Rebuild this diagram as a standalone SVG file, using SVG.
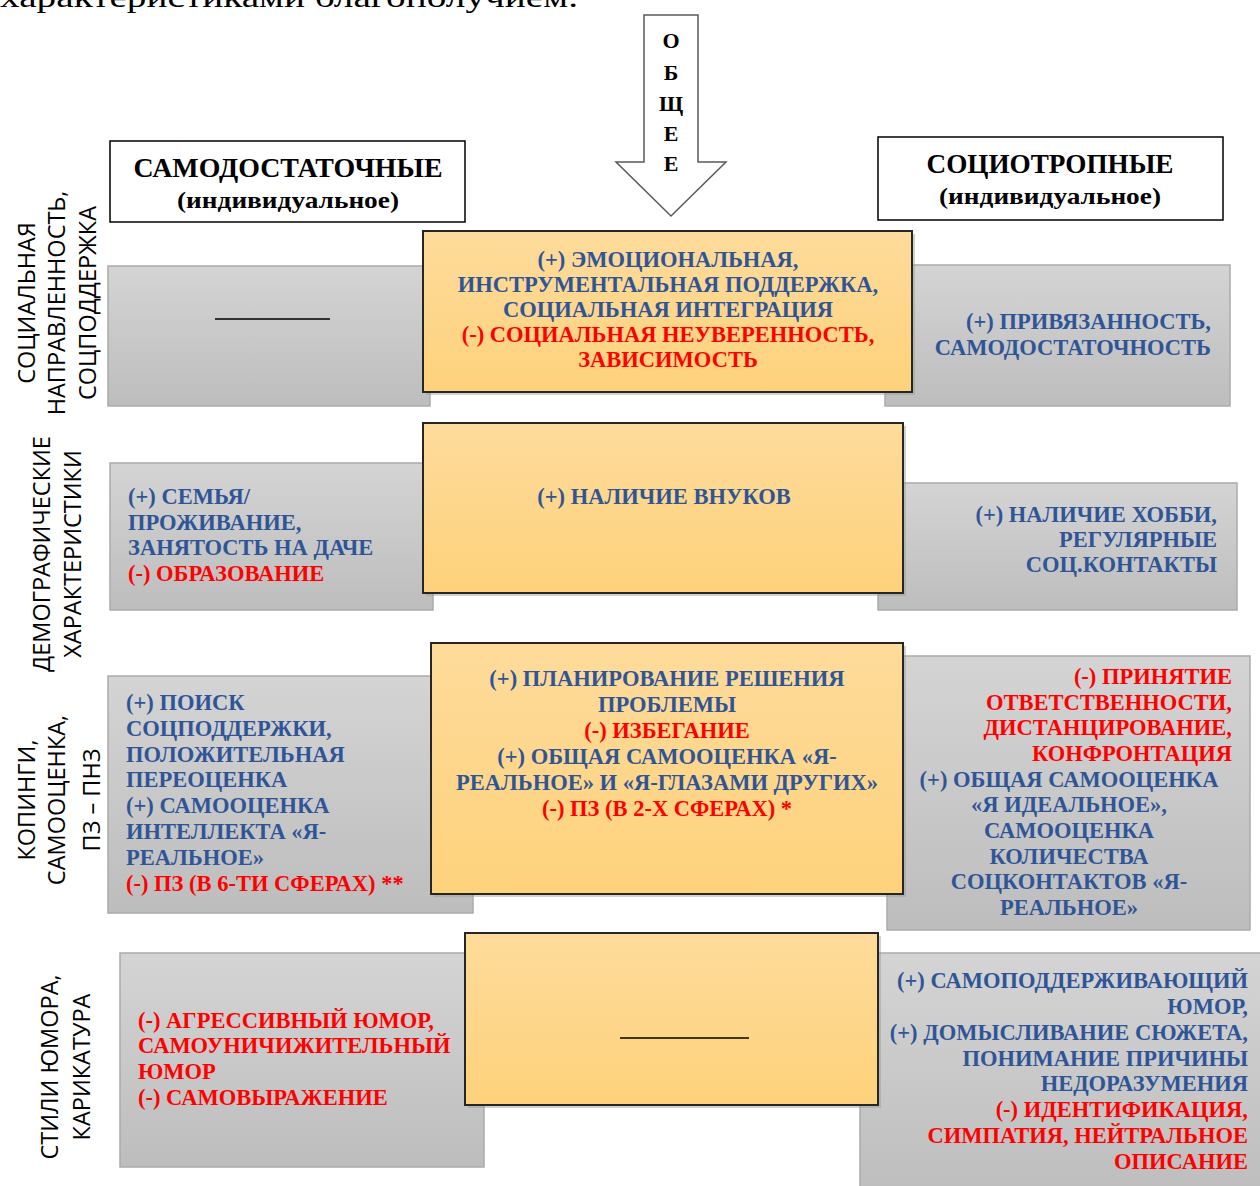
<svg xmlns="http://www.w3.org/2000/svg" width="1260" height="1186" viewBox="0 0 1260 1186">
<defs>
<linearGradient id="gGray" x1="0" y1="0" x2="0" y2="1">
<stop offset="0" stop-color="#D4D4D4"/>
<stop offset="1" stop-color="#BDBDBD"/>
</linearGradient>
<linearGradient id="gOr" x1="0" y1="0" x2="0" y2="1">
<stop offset="0" stop-color="#FEDB9B"/>
<stop offset="1" stop-color="#FED27C"/>
</linearGradient>
</defs>
<style>
.gray{fill:url(#gGray);stroke:#ABABAB;stroke-width:1.5}
.or{fill:url(#gOr);stroke:#262626;stroke-width:2}
.hdr{fill:#FFFFFF;stroke:#000000;stroke-width:1.5}
.sh{fill:#9A9A9A;opacity:0.45}
.t{font-family:"Liberation Serif","Times New Roman",serif;font-weight:bold;font-size:22.5px;fill:#2F5597}
.r{fill:#FF0000}
.h1{font-family:"Liberation Serif","Times New Roman",serif;font-weight:bold;font-size:27px;fill:#000}
.h2{font-family:"Liberation Serif","Times New Roman",serif;font-weight:bold;font-size:22px;fill:#000}
.h3{font-family:"Liberation Serif","Times New Roman",serif;font-weight:bold;font-size:24px;fill:#000}
.lbl{font-family:"Open Sans","Liberation Sans",sans-serif;font-size:23.5px;fill:#000}
.m{text-anchor:middle}
.e{text-anchor:end}
.dash{stroke:#000;stroke-width:1.5}
</style>
<rect width="1260" height="1186" fill="#FFFFFF"/>
<text x="0" y="7" font-family="Liberation Serif,Times New Roman,serif" font-size="30" fill="#000" textLength="578" lengthAdjust="spacingAndGlyphs">характеристиками благополучием.</text>

<g id="hdr-left">
<rect class="hdr" x="110" y="141" width="355" height="81"/>
<text class="h1 m" x="288" y="177" textLength="309" lengthAdjust="spacingAndGlyphs">САМОДОСТАТОЧНЫЕ</text>
<text class="h3 m" x="288" y="208" textLength="222" lengthAdjust="spacingAndGlyphs">(индивидуальное)</text>
</g>
<g id="hdr-right">
<rect class="hdr" x="878" y="137" width="345" height="83"/>
<text class="h1 m" x="1050" y="173" textLength="247" lengthAdjust="spacingAndGlyphs">СОЦИОТРОПНЫЕ</text>
<text class="h3 m" x="1050" y="204" textLength="222" lengthAdjust="spacingAndGlyphs">(индивидуальное)</text>
</g>
<g id="arrow-common">
<path d="M644,15 H698 V162 H726 L671,216 L616,162 H644 Z" fill="#FFFFFF" stroke="#595959" stroke-width="1.5"/>
<text class="h2 m" x="671" y="48">О</text>
<text class="h2 m" x="671" y="80">Б</text>
<text class="h2 m" x="671" y="111">Щ</text>
<text class="h2 m" x="671" y="141">Е</text>
<text class="h2 m" x="671" y="171">Е</text>
</g>

<g id="label-row1">
<text class="lbl m" transform="translate(35,303) rotate(-90)">СОЦИАЛЬНАЯ</text>
<text class="lbl m" transform="translate(65,303) rotate(-90)">НАПРАВЛЕННОСТЬ,</text>
<text class="lbl m" transform="translate(96,303) rotate(-90)">СОЦПОДДЕРЖКА</text>
</g>
<g id="label-row2">
<text class="lbl m" transform="translate(50,554) rotate(-90)">ДЕМОГРАФИЧЕСКИЕ</text>
<text class="lbl m" transform="translate(81,554) rotate(-90)">ХАРАКТЕРИСТИКИ</text>
</g>
<g id="label-row3">
<text class="lbl m" transform="translate(35,800) rotate(-90)">КОПИНГИ,</text>
<text class="lbl m" transform="translate(65,800) rotate(-90)">САМООЦЕНКА,</text>
<text class="lbl m" transform="translate(100,800) rotate(-90)">ПЗ – ПНЗ</text>
</g>
<g id="label-row4">
<text class="lbl m" transform="translate(58,1067) rotate(-90)">СТИЛИ ЮМОРА,</text>
<text class="lbl m" transform="translate(90,1067) rotate(-90)">КАРИКАТУРА</text>
</g>

<!-- Row 1 -->
<g id="r1-left">
<rect class="gray" x="108" y="266" width="322" height="140"/>
<line class="dash" x1="215" y1="319" x2="330" y2="319"/>
</g>
<g id="r1-right">
<rect class="gray" x="885" y="265" width="345" height="141"/>
<text class="t e" x="1211" y="329">(+) ПРИВЯЗАННОСТЬ,</text>
<text class="t e" x="1211" y="355">САМОДОСТАТОЧНОСТЬ</text>
</g>
<g id="r1-center">
<rect class="sh" x="426" y="234" width="489" height="161"/>
<rect class="or" x="423" y="231" width="489" height="161"/>
<text class="t m" x="668" y="267">(+) ЭМОЦИОНАЛЬНАЯ,</text>
<text class="t m" x="668" y="292">ИНСТРУМЕНТАЛЬНАЯ ПОДДЕРЖКА,</text>
<text class="t m" x="668" y="317">СОЦИАЛЬНАЯ ИНТЕГРАЦИЯ</text>
<text class="t m r" x="668" y="342">(-) СОЦИАЛЬНАЯ НЕУВЕРЕННОСТЬ,</text>
<text class="t m r" x="668" y="367">ЗАВИСИМОСТЬ</text>
</g>

<!-- Row 2 -->
<g id="r2-left">
<rect class="gray" x="110" y="463" width="323" height="147"/>
<text class="t" x="128" y="504">(+) СЕМЬЯ/</text>
<text class="t" x="128" y="530">ПРОЖИВАНИЕ,</text>
<text class="t" x="128" y="555">ЗАНЯТОСТЬ НА ДАЧЕ</text>
<text class="t r" x="128" y="581">(-) ОБРАЗОВАНИЕ</text>
</g>
<g id="r2-right">
<rect class="gray" x="878" y="483" width="359" height="127"/>
<text class="t e" x="1217" y="522">(+) НАЛИЧИЕ ХОББИ,</text>
<text class="t e" x="1217" y="547">РЕГУЛЯРНЫЕ</text>
<text class="t e" x="1217" y="572">СОЦ.КОНТАКТЫ</text>
</g>
<g id="r2-center">
<rect class="sh" x="426" y="426" width="480" height="170"/>
<rect class="or" x="423" y="423" width="480" height="170"/>
<text class="t m" x="664" y="504">(+) НАЛИЧИЕ ВНУКОВ</text>
</g>

<!-- Row 3 -->
<g id="r3-left">
<rect class="gray" x="108" y="676" width="365" height="237"/>
<text class="t" x="126" y="710">(+) ПОИСК</text>
<text class="t" x="126" y="736">СОЦПОДДЕРЖКИ,</text>
<text class="t" x="126" y="762">ПОЛОЖИТЕЛЬНАЯ</text>
<text class="t" x="126" y="787">ПЕРЕОЦЕНКА</text>
<text class="t" x="126" y="813">(+) САМООЦЕНКА</text>
<text class="t" x="126" y="839">ИНТЕЛЛЕКТА «Я-</text>
<text class="t" x="126" y="865">РЕАЛЬНОЕ»</text>
<text class="t r" x="126" y="891">(-) ПЗ (В 6-ТИ СФЕРАХ) **</text>
</g>
<g id="r3-right">
<rect class="gray" x="887" y="656" width="363" height="274"/>
<text class="t e r" x="1232" y="684">(-) ПРИНЯТИЕ</text>
<text class="t e r" x="1232" y="710">ОТВЕТСТВЕННОСТИ,</text>
<text class="t e r" x="1232" y="735">ДИСТАНЦИРОВАНИЕ,</text>
<text class="t e r" x="1232" y="761">КОНФРОНТАЦИЯ</text>
<text class="t m" x="1069" y="787">(+) ОБЩАЯ САМООЦЕНКА</text>
<text class="t m" x="1069" y="812">«Я ИДЕАЛЬНОЕ»,</text>
<text class="t m" x="1069" y="838">САМООЦЕНКА</text>
<text class="t m" x="1069" y="864">КОЛИЧЕСТВА</text>
<text class="t m" x="1069" y="889">СОЦКОНТАКТОВ «Я-</text>
<text class="t m" x="1069" y="915">РЕАЛЬНОЕ»</text>
</g>
<g id="r3-center">
<rect class="sh" x="434" y="646" width="472" height="251"/>
<rect class="or" x="431" y="643" width="472" height="251"/>
<text class="t m" x="667" y="686">(+) ПЛАНИРОВАНИЕ РЕШЕНИЯ</text>
<text class="t m" x="667" y="712">ПРОБЛЕМЫ</text>
<text class="t m r" x="667" y="738">(-) ИЗБЕГАНИЕ</text>
<text class="t m" x="667" y="764">(+) ОБЩАЯ САМООЦЕНКА «Я-</text>
<text class="t m" x="667" y="790">РЕАЛЬНОЕ» И «Я-ГЛАЗАМИ ДРУГИХ»</text>
<text class="t m r" x="667" y="816">(-) ПЗ (В 2-Х СФЕРАХ) *</text>
</g>

<!-- Row 4 -->
<g id="r4-left">
<rect class="gray" x="120" y="953" width="364" height="214"/>
<text class="t r" x="138" y="1028">(-) АГРЕССИВНЫЙ ЮМОР,</text>
<text class="t r" x="138" y="1053">САМОУНИЧИЖИТЕЛЬНЫЙ</text>
<text class="t r" x="138" y="1079">ЮМОР</text>
<text class="t r" x="138" y="1105">(-) САМОВЫРАЖЕНИЕ</text>
</g>
<g id="r4-right">
<rect class="gray" x="860" y="953" width="410" height="245"/>
<text class="t e" x="1248" y="988">(+) САМОПОДДЕРЖИВАЮЩИЙ</text>
<text class="t e" x="1248" y="1014">ЮМОР,</text>
<text class="t e" x="1248" y="1040">(+) ДОМЫСЛИВАНИЕ СЮЖЕТА,</text>
<text class="t e" x="1248" y="1066">ПОНИМАНИЕ ПРИЧИНЫ</text>
<text class="t e" x="1248" y="1091">НЕДОРАЗУМЕНИЯ</text>
<text class="t e r" x="1248" y="1117">(-) ИДЕНТИФИКАЦИЯ,</text>
<text class="t e r" x="1248" y="1143">СИМПАТИЯ, НЕЙТРАЛЬНОЕ</text>
<text class="t e r" x="1248" y="1169">ОПИСАНИЕ</text>
</g>
<g id="r4-center">
<rect class="sh" x="468" y="936" width="413" height="172"/>
<rect class="or" x="465" y="933" width="413" height="172"/>
<line class="dash" x1="620" y1="1038" x2="749" y2="1038"/>
</g>

<g id="connectors"></g>
</svg>
